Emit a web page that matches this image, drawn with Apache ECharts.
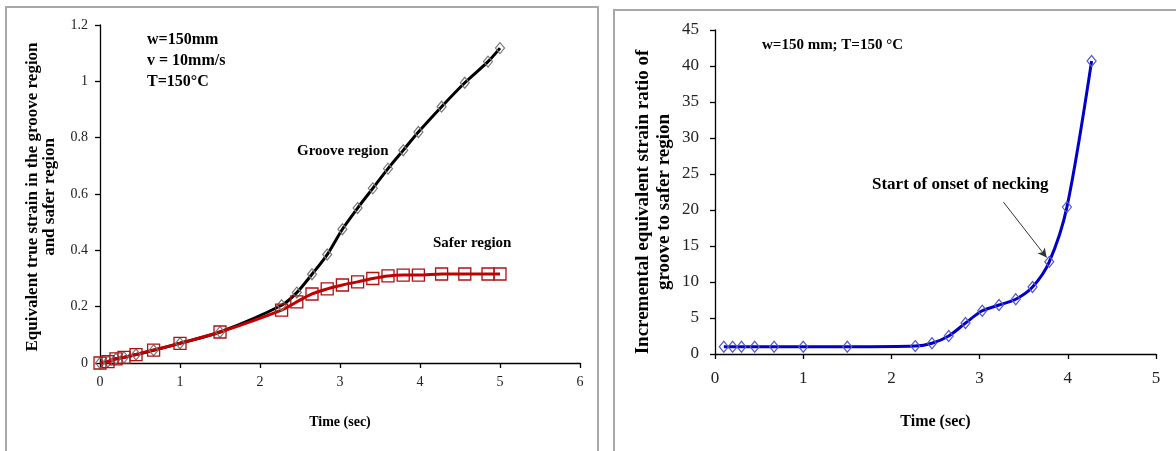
<!DOCTYPE html>
<html>
<head>
    <meta charset="UTF-8">
    <title>strain</title>
    <script src="https://cdn.jsdelivr.net/npm/echarts@6/dist/echarts.min.js"></script>
    <style>
        *{margin:0;padding:0}
        html,body{width:100%;height:100%;background:#fff}
        #main{width:1176px;height:451px}
    </style>
</head>
<body>
    <div id="main"></div>

    <script type="text/javascript">
        // left chart: strain vs time
        var timeSec = [0, 0.1, 0.2, 0.3, 0.45, 0.67, 1.0, 1.5, 2.27, 2.46, 2.65, 2.84, 3.03, 3.22, 3.41, 3.6, 3.79, 3.98, 4.27, 4.56, 4.85, 5.0];
        var grooveStrain = [0, 0.005, 0.015, 0.02, 0.03, 0.045, 0.07, 0.11, 0.205, 0.25, 0.315, 0.385, 0.475, 0.55, 0.62, 0.69, 0.755, 0.82, 0.91, 0.995, 1.07, 1.118];
        var saferStrain = [0, 0.005, 0.015, 0.02, 0.03, 0.046, 0.07, 0.11, 0.188, 0.217, 0.245, 0.263, 0.277, 0.288, 0.3, 0.309, 0.312, 0.312, 0.316, 0.316, 0.316, 0.316];

        // right chart: incremental strain ratio
        var ratioTime = [0.1, 0.2, 0.3, 0.45, 0.67, 1.0, 1.5, 2.27, 2.46, 2.65, 2.84, 3.03, 3.22, 3.41, 3.6, 3.79, 3.99, 4.27];
        var strainRatio = [1.0, 1.0, 1.0, 1.0, 1.0, 1.0, 1.0, 1.1, 1.5, 2.5, 4.3, 6.0, 6.8, 7.6, 9.3, 12.8, 20.4, 40.7];

        function pairs(xs, ys) {
            return xs.map(function (x, i) { return [x, ys[i]]; });
        }

        var serif = '"Liberation Serif", "Times New Roman", serif';
        var axisCommon = {
            axisLine: {show: true, lineStyle: {color: '#000', width: 1.3}},
            axisTick: {show: true, inside: false, length: 5, lineStyle: {color: '#000', width: 1.3}},
            splitLine: {show: false}
        };

        var myChart = echarts.init(document.getElementById('main'));
        var option = {
            animation: false,
            backgroundColor: '#fff',
            grid: [
                {left: 100, top: 25, width: 480, height: 338},
                {left: 715, top: 30, width: 441, height: 324}
            ],
            xAxis: [
                Object.assign({
                    gridIndex: 0, type: 'value', min: 0, max: 6, interval: 1,
                    name: 'Time (sec)', nameLocation: 'middle', nameGap: 52,
                    nameTextStyle: {fontFamily: serif, fontWeight: 'bold', fontSize: 14, color: '#000'},
                    axisLabel: {fontFamily: serif, fontSize: 14, color: '#222', margin: 12}
                }, axisCommon),
                Object.assign({
                    gridIndex: 1, type: 'value', min: 0, max: 5, interval: 1,
                    name: 'Time (sec)', nameLocation: 'middle', nameGap: 60,
                    nameTextStyle: {fontFamily: serif, fontWeight: 'bold', fontSize: 16, color: '#000'},
                    axisLabel: {fontFamily: serif, fontSize: 17, color: '#222', margin: 16}
                }, axisCommon)
            ],
            yAxis: [
                Object.assign({
                    gridIndex: 0, type: 'value', min: 0, max: 1.2, interval: 0.2,
                    axisLabel: {fontFamily: serif, fontSize: 14, color: '#222', margin: 12}
                }, axisCommon),
                Object.assign({
                    gridIndex: 1, type: 'value', min: 0, max: 45, interval: 5,
                    axisLabel: {fontFamily: serif, fontSize: 17, color: '#222', margin: 16}
                }, axisCommon)
            ],
            graphic: [
                // panel frames
                {type: 'rect', shape: {x: 6, y: 7, width: 592, height: 460},
                    style: {fill: 'none', stroke: '#a8a8a8', lineWidth: 2}},
                {type: 'rect', shape: {x: 614, y: 10, width: 580, height: 460},
                    style: {fill: 'none', stroke: '#a8a8a8', lineWidth: 2}},
                // y axis titles
                {type: 'text', x: 41, y: 197, rotation: Math.PI / 2,
                    style: {text: 'Equivalent true strain in the groove region\nand safer region',
                        font: 'bold 17px ' + serif, fill: '#000', align: 'center', verticalAlign: 'middle', lineHeight: 17}},
                {type: 'text', x: 654, y: 202, rotation: Math.PI / 2,
                    style: {text: 'Incremental equivalent strain ratio of\ngroove to safer region',
                        font: 'bold 19px ' + serif, fill: '#000', align: 'center', verticalAlign: 'middle', lineHeight: 21}},
                // notes
                {type: 'text', left: 147, top: 29,
                    style: {text: 'w=150mm\nv = 10mm/s\nT=150°C', font: 'bold 16px ' + serif, fill: '#000', lineHeight: 21}},
                {type: 'text', left: 297, top: 144,
                    style: {text: 'Groove region', font: 'bold 15px ' + serif, fill: '#000'}},
                {type: 'text', left: 433, top: 236,
                    style: {text: 'Safer region', font: 'bold 15px ' + serif, fill: '#000'}},
                {type: 'text', left: 762, top: 38,
                    style: {text: 'w=150 mm; T=150 °C', font: 'bold 15px ' + serif, fill: '#000'}},
                {type: 'text', left: 872, top: 176,
                    style: {text: 'Start of onset of necking', font: 'bold 17px ' + serif, fill: '#000'}}
            ],
            series: [
                {
                    name: 'Groove region', type: 'line', xAxisIndex: 0, yAxisIndex: 0,
                    data: pairs(timeSec, grooveStrain),
                    smooth: 0.3, symbol: 'diamond', symbolSize: [9, 11],
                    lineStyle: {color: '#000', width: 3},
                    itemStyle: {color: 'rgba(255,255,255,0)', borderColor: '#777', borderWidth: 1.2}
                },
                {
                    name: 'Safer region', type: 'line', xAxisIndex: 0, yAxisIndex: 0,
                    data: pairs(timeSec, saferStrain),
                    smooth: 0.3, symbol: 'rect', symbolSize: 12,
                    lineStyle: {color: '#c00000', width: 3},
                    itemStyle: {color: 'rgba(255,255,255,0)', borderColor: '#b01010', borderWidth: 1.3}
                },
                {
                    name: 'Ratio', type: 'line', xAxisIndex: 1, yAxisIndex: 1,
                    data: pairs(ratioTime, strainRatio),
                    smooth: 0.3, symbol: 'diamond', symbolSize: [9, 11],
                    lineStyle: {color: '#0000c8', width: 3},
                    itemStyle: {color: 'rgba(255,255,255,0)', borderColor: '#5555d0', borderWidth: 1.2},
                    markLine: {
                        silent: true,
                        symbol: ['none', 'arrow'], symbolSize: [7, 9],
                        label: {show: false},
                        lineStyle: {color: '#333', width: 1, type: 'solid'},
                        data: [[{coord: [3.27, 21.1]}, {coord: [3.76, 13.4]}]]
                    }
                }
            ]
        };
        myChart.setOption(option);
    </script>
</body>
</html>
